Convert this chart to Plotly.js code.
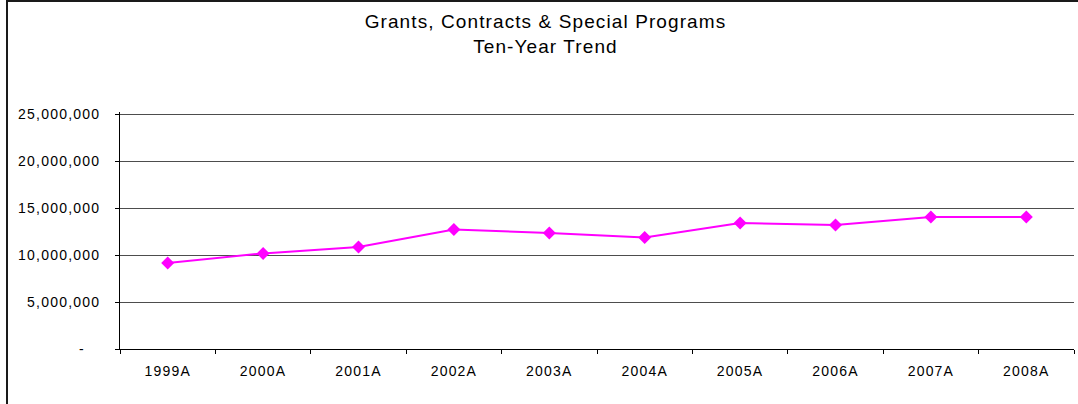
<!DOCTYPE html>
<html>
<head>
<meta charset="utf-8">
<script src="https://cdn.plot.ly/plotly-3.0.1.min.js"></script>
<style>
  html, body { margin: 0; padding: 0; background: #ffffff; }
  #wrap { position: relative; width: 1078px; height: 404px; overflow: hidden; }
  #chart { position: absolute; left: 0; top: 0; width: 1078px; height: 404px; }
  #frame { position: absolute; left: 6px; top: 0px; width: 1200px; height: 600px;
           border-left: 2px solid #1a1a1a; border-top: 2px solid #1a1a1a; pointer-events: none; }
  #chart .xtick text, #chart .ytick text { letter-spacing: 1.2px; }
  #chart .gtitle { letter-spacing: 1.1px; }
</style>
</head>
<body>
<div id="wrap">
  <div id="chart"></div>
  <div id="frame"></div>
</div>
<script>
const years = ["1999A", "2000A", "2001A", "2002A", "2003A", "2004A", "2005A", "2006A", "2007A", "2008A"];
const amounts = [9150000, 10170000, 10850000, 12720000, 12340000, 11870000, 13400000, 13190000, 14040000, 14040000];
const yTickVals = [0, 5000000, 10000000, 15000000, 20000000, 25000000];
const yTickText = ["-\u00a0\u00a0\u00a0", "5,000,000", "10,000,000", "15,000,000", "20,000,000", "25,000,000"];
const chartTitle = "Grants, Contracts & Special Programs<br>Ten-Year Trend";

const font = "'Liberation Sans', Arial, sans-serif";

const trace = {
  type: "scatter",
  mode: "lines+markers",
  x: years,
  y: amounts,
  line: { color: "#FF00FF", width: 2 },
  marker: { symbol: "diamond", color: "#FF00FF", size: 10, line: { width: 0 } },
  hoverinfo: "x+y"
};

const layout = {
  width: 1078,
  height: 404,
  margin: { l: 120, r: 4, t: 112, b: 55 },
  paper_bgcolor: "#ffffff",
  plot_bgcolor: "#ffffff",
  showlegend: false,
  font: { family: font, color: "#000000", size: 14 },
  title: {
    text: chartTitle,
    font: { family: font, size: 19, color: "#000000" },
    xref: "container", x: 0.506, xanchor: "center",
    yref: "container", y: 0.931, yanchor: "top"
  },
  xaxis: {
    type: "category",
    range: [-0.5, years.length - 0.5],
    showline: true, linecolor: "#000000", linewidth: 1,
    ticks: "outside", tickson: "boundaries", ticklen: 4, tickcolor: "#000000", tickwidth: 1,
    showgrid: false, zeroline: false,
    tickfont: { family: font, size: 14, color: "#000000" },
    ticklabelstandoff: 9,
    fixedrange: true
  },
  yaxis: {
    range: [0, 25212766],
    tickvals: yTickVals,
    ticktext: yTickText,
    showline: true, linecolor: "#000000", linewidth: 1,
    ticks: "outside", ticklen: 4, tickcolor: "#000000", tickwidth: 1,
    showgrid: true, gridcolor: "#4d4d4d", gridwidth: 1,
    zeroline: false,
    tickfont: { family: font, size: 14, color: "#000000" },
    ticklabelstandoff: 12,
    fixedrange: true
  }
};

Plotly.newPlot("chart", [trace], layout, { displayModeBar: false, staticPlot: true });
</script>
</body>
</html>
